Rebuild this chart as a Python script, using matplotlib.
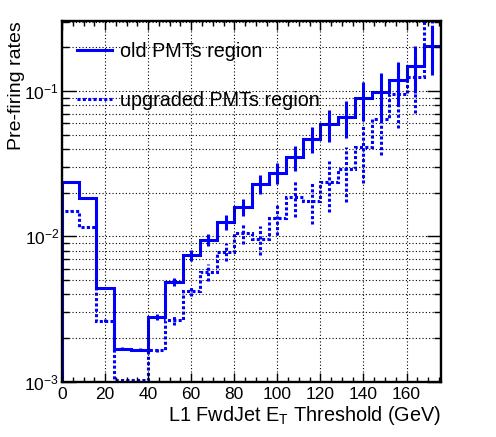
import numpy as np
import matplotlib
matplotlib.use('Agg')
import matplotlib.pyplot as plt
from matplotlib.ticker import MultipleLocator, LogLocator, NullFormatter

plt.rcParams['font.family'] = ['Liberation Sans', 'DejaVu Sans']
plt.rcParams['mathtext.fontset'] = 'custom'
plt.rcParams['mathtext.rm'] = 'Liberation Sans'
plt.rcParams['mathtext.default'] = 'regular'

# bin edges of the L1 threshold (GeV)
edges = np.arange(0, 177, 8)

# old PMTs region
old_rate = [0.0238, 0.0185, 0.00444, 0.00168, 0.00166, 0.00278, 0.00488, 0.00746,
            0.0095, 0.01265, 0.0160, 0.0229, 0.0275, 0.0351, 0.0472, 0.0593,
            0.0668, 0.0895, 0.0989, 0.120, 0.150, 0.204]
old_err = [0.0003, 0.0003, 0.00008, 0.00004, 0.00004, 0.000125, 0.00031, 0.00065,
           0.00095, 0.0015, 0.00214, 0.00337, 0.0046, 0.0067, 0.0099, 0.0146,
           0.019, 0.0269, 0.0338, 0.0394, 0.053, 0.074]

# upgraded PMTs region
new_rate = [0.01506, 0.01168, 0.00263, 0.00102, 0.00102, 0.00166, 0.00266, 0.00421,
            0.0057, 0.00786, 0.01052, 0.00966, 0.01348, 0.0188, 0.01765, 0.0238,
            0.0292, 0.0411, 0.0641, 0.0958, 0.126, 0.35]
new_err = [0.0002, 0.0002, 0.00006, 0.0, 0.0, 0.00006, 0.0002, 0.00035,
           0.00075, 0.0011, 0.0017, 0.0022, 0.0033, 0.0051, 0.0055, 0.009,
           0.012, 0.0177, 0.028, 0.04, 0.055, 0.12]

blue = '#0000ff'
dots = (0, (1.0, 0.75))

fig = plt.figure(figsize=(4.96, 4.37), dpi=100)
ax = fig.add_axes([62/496, 1 - 381.7/437, 379/496, 360.7/437])

centers = 0.5 * (edges[:-1] + edges[1:])

ax.stairs(old_rate, edges, color=blue, lw=2.2, label='old PMTs region')
ax.errorbar(centers, old_rate, yerr=old_err, fmt='none', ecolor=blue, elinewidth=2.2)

ax.stairs(new_rate, edges, color=blue, lw=2.2, linestyle=dots, label='upgraded PMTs region')
eb = ax.errorbar(centers, new_rate, yerr=new_err, fmt='none', ecolor=blue, elinewidth=2.2)
eb[2][0].set_linestyle(dots)

ax.set_yscale('log')
ax.set_xlim(0, 176)
ax.set_ylim(1e-3, 0.304)

ax.xaxis.set_major_locator(MultipleLocator(20))
ax.xaxis.set_minor_locator(MultipleLocator(5))
ax.yaxis.set_major_locator(LogLocator(base=10, numticks=10))
ax.yaxis.set_minor_locator(LogLocator(base=10, subs=np.arange(2, 10), numticks=10))
ax.yaxis.set_minor_formatter(NullFormatter())

ax.tick_params(which='both', direction='in', top=True, right=True, labelsize=12.5, pad=4)
ax.tick_params(axis='y', which='major', pad=2)
ax.tick_params(axis='x', which='major', length=6.5, width=1)
ax.tick_params(axis='x', which='minor', length=3.3, width=1)
ax.tick_params(axis='y', which='major', length=10, width=1)
ax.tick_params(axis='y', which='minor', length=5, width=1)
for s in ax.spines.values():
    s.set_linewidth(1.7)

ax.grid(True, which='major', axis='x', color='black', linestyle=(0, (1, 2)), lw=0.8)
ax.grid(True, which='both', axis='y', color='black', linestyle=(0, (1, 2)), lw=0.8)

ax.set_xlabel('L1 FwdJet $E_{T}$ Threshold (GeV)', fontsize=14.3, loc='right', labelpad=1)
ax.set_ylabel('Pre-firing rates', fontsize=14, loc='top')
ax.yaxis.set_label_coords(-0.097, 1.0)

ax.legend(loc='upper left', frameon=False, fontsize=14.2, handlelength=1.78,
          handletextpad=0.39, labelspacing=1.54, borderaxespad=0, borderpad=0,
          bbox_to_anchor=(15/379, 0.943))

fig.savefig('out.png', dpi=100)
